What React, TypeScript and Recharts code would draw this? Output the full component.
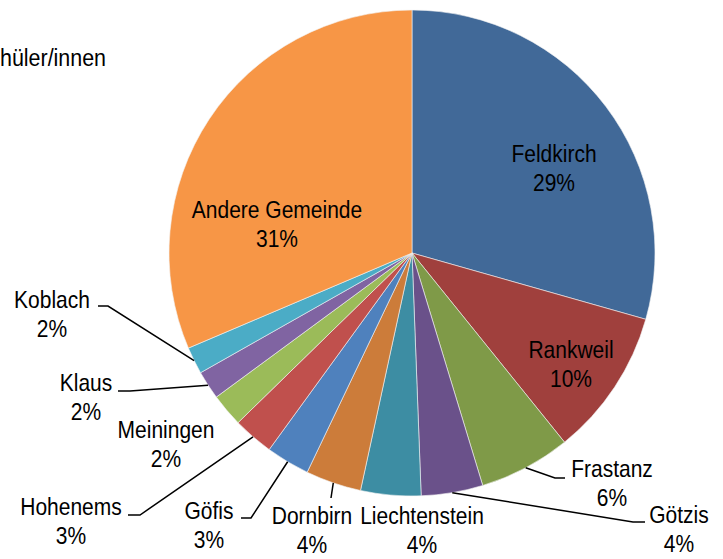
import { Pie, PieChart, Cell } from "recharts";

const names = [
  "Feldkirch",
  "Rankweil",
  "Frastanz",
  "Götzis",
  "Liechtenstein",
  "Dornbirn",
  "Göfis",
  "Hohenems",
  "Meiningen",
  "Klaus",
  "Koblach",
  "Andere Gemeinde",
];

const shares = [29.4, 9.8, 6.1, 4.1, 4.0, 3.7, 2.9, 2.7, 2.2, 1.9, 1.8, 31.4];

const colors = [
  "#416998",
  "#A0403D",
  "#7F9A48",
  "#6A518A",
  "#3D8DA3",
  "#CC7C3A",
  "#4F81BD",
  "#C0504D",
  "#9BBB59",
  "#8064A2",
  "#4BACC6",
  "#F79646",
];

const data = names.map((name, i) => ({ name, value: shares[i] }));

// label block centre (x, first baseline) relative to pie centre, plus leader elbow points
const labelLayout: { x: number; y: number; path?: [number, number][] }[] = [
  { x: 142, y: -91 },
  { x: 159, y: 105 },
  { x: 200, y: 224, path: [[143, 225], [153, 225]] },
  { x: 267, y: 270, path: [[221, 269], [233, 269]] },
  { x: 10, y: 271 },
  { x: -100, y: 271, path: [[-81, 245]] },
  { x: -203, y: 266, path: [[-161, 265], [-171, 265]] },
  { x: -341, y: 262, path: [[-272, 262], [-284, 262]] },
  { x: -246, y: 185 },
  { x: -326, y: 138, path: [[-282, 138], [-294, 138]] },
  { x: -360, y: 55, path: [[-304, 53], [-314, 53]] },
  { x: -135, y: -35 },
];

const FONT = "'Liberation Sans', Arial, sans-serif";
const SQUEEZE = 0.875;
const RAD = Math.PI / 180;

const renderLabel = (props: any) => {
  const { cx, cy, midAngle, outerRadius, index, percent, name } = props;
  const lay = labelLayout[index];
  const tx = cx + lay.x;
  const ty = cy + lay.y;
  let line = null;
  if (lay.path) {
    const ex = cx + outerRadius * Math.cos(-midAngle * RAD);
    const ey = cy + outerRadius * Math.sin(-midAngle * RAD);
    const pts = [[ex, ey], ...lay.path.map(([px, py]) => [cx + px, cy + py])];
    line = (
      <polyline
        points={pts.map((p) => p.join(",")).join(" ")}
        fill="none"
        stroke="#000"
        strokeWidth={1.5}
      />
    );
  }
  return (
    <g key={`lbl-${index}`}>
      {line}
      <g transform={`translate(${tx},${ty}) scale(${SQUEEZE},1)`}>
        <text x={0} y={0} textAnchor="middle" fontFamily={FONT} fontSize={24} fill="#000">
          <tspan x={0}>{name}</tspan>
          <tspan x={0} dy={29}>{`${Math.round(percent * 100)}%`}</tspan>
        </text>
      </g>
    </g>
  );
};

export default function App() {
  return (
    <div style={{ position: "absolute", left: 0, top: 0, width: 723, height: 559, background: "#fff" }}>
      <PieChart width={723} height={559}>
        <g transform={`translate(106,66) scale(${SQUEEZE},1)`}>
          <text x={0} y={0} textAnchor="end" fontFamily={FONT} fontSize={24.5} fill="#000">
            Schüler/innen
          </text>
        </g>
        <Pie
          data={data}
          dataKey="value"
          nameKey="name"
          cx={407}
          cy={248}
          outerRadius={243}
          startAngle={90}
          endAngle={-270}
          stroke="#f4f4f4"
          strokeWidth={0.6}
          label={renderLabel}
          labelLine={false}
          isAnimationActive={false}
        >
          {data.map((d, i) => (
            <Cell key={d.name} fill={colors[i]} />
          ))}
        </Pie>
      </PieChart>
    </div>
  );
}
